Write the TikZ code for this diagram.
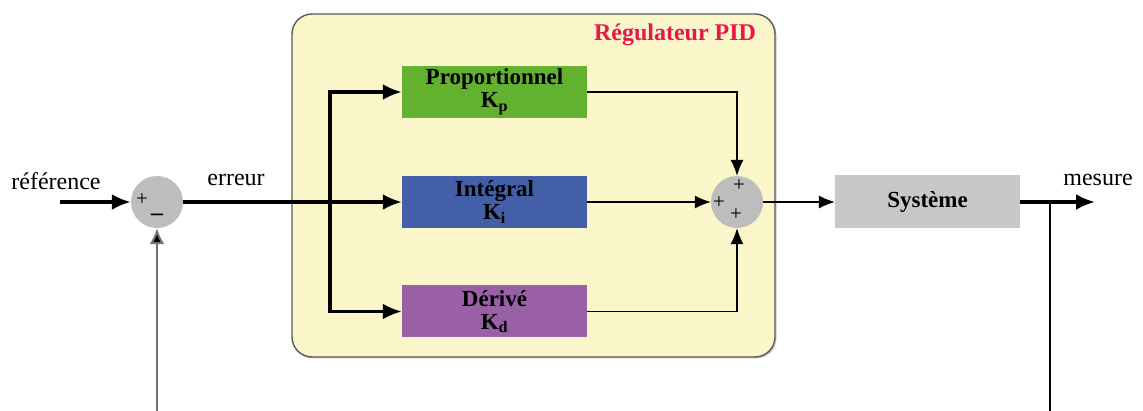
\documentclass[tikz,border=0pt]{standalone}
\usepackage{fontspec}
\setmainfont{Liberation Serif}
\usepackage{tikz}
\usetikzlibrary{arrows.meta, positioning, calc, shadows}

\definecolor{panelyellow}{HTML}{FBF6CA}
\definecolor{panelborder}{HTML}{5A5A5A}
\definecolor{pgreen}{HTML}{62B22F}
\definecolor{iblue}{HTML}{435FA8}
\definecolor{dpurple}{HTML}{9A60A6}
\definecolor{sysgray}{HTML}{C8C8C8}
\definecolor{sumgray}{HTML}{BDBDBD}
\definecolor{titlered}{HTML}{E5194B}

\tikzset{
	txt/.style={font=\fontsize{24}{26}\selectfont, inner sep=0pt},
	blockbox/.style={minimum width=185pt, minimum height=52pt, inner sep=0pt,
		align=center, font=\bfseries\fontsize{23}{23}\selectfont},
	sumnode/.style={circle, fill=sumgray, minimum size=52pt, inner sep=0pt},
	sign/.style={font=\fontsize{21}{21}\selectfont, inner sep=0pt},
	thickarrow/.style={line width=3.2pt, -{Latex[length=19pt, width=16pt]}},
	thinarrow/.style={line width=1.2pt, -{Latex[length=16pt, width=13pt]}},
}

\begin{document}
\begin{tikzpicture}[x=1pt, y=-1pt]
	\useasboundingbox (0,0) rectangle (1143,411);

	% regulateur PID
	\node[draw=panelborder, line width=1.4pt, fill=panelyellow, rounded corners=20pt,
		minimum width=483pt, minimum height=343pt,
		drop shadow={shadow xshift=1.5pt, shadow yshift=-1.5pt, opacity=0.4}] (pid) at (533.5,185.5) {};
	\node[font=\bfseries\fontsize{24}{24}\selectfont, text=titlered, inner sep=0pt] (pidtitle) at (675,35) {Régulateur PID};

	\node[blockbox, fill=pgreen] (prop) at (494.5,92) {Proportionnel\\K\textsubscript{p}};
	\node[blockbox, fill=iblue] (integ) at (494.5,202) {Intégral\\K\textsubscript{i}};
	\node[blockbox, fill=dpurple] (deriv) at (494.5,311.5) {Dérivé\\K\textsubscript{d}};

	% comparateurs
	\node[sumnode] (sum1) at (157,202) {};
	\node[sign] (sum1p) at ($(sum1)+(-15,-2)$) {+};
	\node[sign, font=\bfseries\fontsize{24}{24}\selectfont] (sum1m) at ($(sum1)+(0,15)$) {--};
	\node[sumnode] (sum2) at (737,202) {};
	\node[sign] (sum2t) at ($(sum2)+(2,-16)$) {+};
	\node[sign] (sum2l) at ($(sum2)+(-18,1)$) {+};
	\node[sign] (sum2b) at ($(sum2)+(-1,13)$) {+};

	\node[blockbox, fill=sysgray, minimum height=53pt] (sys) at (927.5,202) {Système};

	% textes
	\node[txt] (reflabel) at (56,181) {référence};
	\node[txt] (errlabel) at (236,180) {erreur};
	\node[txt] (meslabel) at (1098,180) {mesure};

	\coordinate (refin) at (60,202);
	\coordinate (split) at (330,202);
	\coordinate (out) at (1095,202);
	\coordinate (tap) at (1050,202);
	\coordinate (fbright) at (1050,411);
	\coordinate (fbleft) at (157,411);

	\draw[thickarrow] (refin) -- (sum1.west);
	\draw[thickarrow] (sum1.east) -- (integ.west);
	\draw[thickarrow] (split) |- (prop.west);
	\draw[thickarrow] (split) |- (deriv.west);

	\draw[thinarrow] (prop.east) -| (sum2.north);
	\draw[thinarrow] (integ.east) -- (sum2.west);
	\draw[thinarrow] (deriv.east) -| (sum2.south);
	\draw[thinarrow] (sum2.east) -- (sys.west);

	\draw[thickarrow] (sys.east) -- (out);
	\draw[line width=2pt] (tap) -- (fbright);
	\draw[line width=2pt, draw=black!55, -{Latex[length=16pt, width=15pt, fill=black]}] (fbleft) -- (sum1.south);
\end{tikzpicture}
\end{document}
